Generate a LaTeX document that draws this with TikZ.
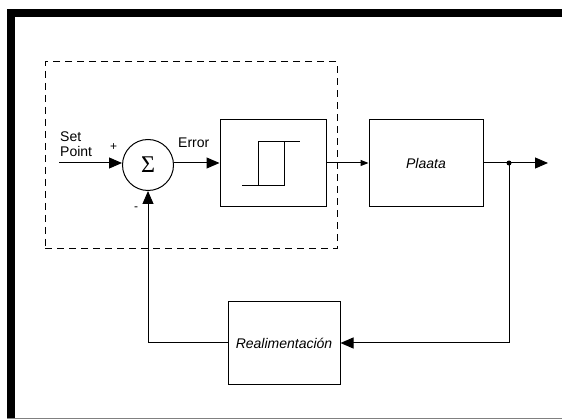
\documentclass[tikz,border=0pt]{standalone}
\usepackage{fontspec}
\setmainfont{Liberation Sans}
\newfontfamily\sigmafont{Liberation Serif}
\usetikzlibrary{arrows.meta, positioning}

\begin{document}
\begin{tikzpicture}
        [
        x=1pt, y=-1pt,
        font=\fontsize{14}{15}\selectfont,
        block/.style={draw, rectangle, line width=1pt, inner sep=0pt},
        sumnode/.style={draw, circle, line width=1pt, minimum size=51pt, inner sep=0pt},
        ctrlbox/.style={draw, rectangle, line width=1pt, dash pattern=on 7pt off 5pt, minimum width=292pt, minimum height=187pt},
        arrow/.style={-{Triangle[length=13pt, width=11pt]}, line width=1pt},
        smallarrow/.style={-{Triangle[length=8pt, width=6pt]}, line width=1pt},
        lbl/.style={inner sep=0pt, anchor=west}
        ]

        \useasboundingbox (0,0) rectangle (562,419);
        \draw[line width=8pt] (562,13) -- (11,13) -- (11,419);
        \draw[gray, line width=1pt] (7,418.5) -- (562,418.5);

        \node[ctrlbox] (ctrl) at (191,155.5) {};

        \node[sumnode] (sum) at (148,165) {\sigmafont\fontsize{24}{24}\selectfont Σ};
        \node[block, minimum width=106pt, minimum height=87pt] (relay) at (273,163.5) {};
        \node[block, minimum width=114pt, minimum height=87pt] (plant) at (426,163.5) {\itshape Plaata};
        \node[block, minimum width=112pt, minimum height=83pt] (fb) at (284,343) {\itshape Realimentación};

        \coordinate (sp) at (59,163);
        \coordinate (branch) at (509,163);
        \coordinate (out) at (548,163);

        \node[lbl, align=left] (splabel) at (60,144) {Set\\Point};
        \node[lbl] (plus) at (110,147) {\fontsize{12}{12}\selectfont +};
        \node[lbl] (minus) at (134,209) {\fontsize{12}{12}\selectfont -};
        \node[lbl] (errlabel) at (178,143) {Error};

        \draw[line width=1pt, shift={(relay.center)}]
            (-31,22.5) -- (-15,22.5) -- (-15,-21.5) -- (27,-21.5)
            (-15,22.5) -- (11,22.5) -- (11,-21.5);

        \draw[arrow] (sp) -- (sum.west |- sp);
        \draw[arrow] (sum.east |- sp) -- (relay.west |- sp);
        \draw[smallarrow] (relay.east |- sp) -- (plant.west |- sp);
        \draw[arrow] (plant.east |- sp) -- (out);
        \fill (branch) circle (2.5pt);
        \draw[arrow] (branch) |- (fb.east);
        \draw[arrow] (fb.west) -| (sum.south);

    \end{tikzpicture}
\end{document}
